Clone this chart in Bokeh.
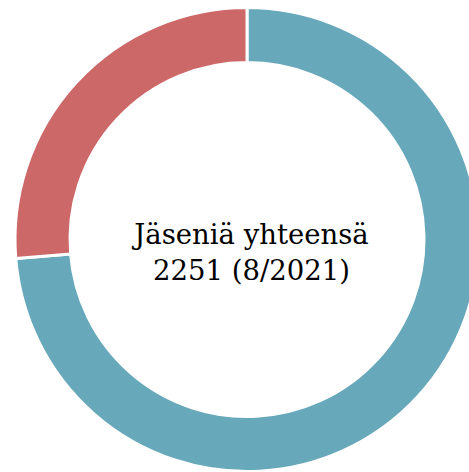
import math
from bokeh.plotting import figure
from bokeh.models import ColumnDataSource, Range1d
from bokeh.core.properties import value
from bokeh.embed import file_html
from bokeh.resources import INLINE

# Data
categories = ["A", "B"]
members = [1659, 592]
colors = ["#67a8bb", "#cd6869"]
title_lines = ["Jäseniä yhteensä", "2251 (8/2021)"]

W, H = 469, 472
p = figure(width=W, height=H, output_backend="svg", toolbar_location=None,
           x_range=Range1d(0, W), y_range=Range1d(0, H), min_border=0)
p.axis.visible = False
p.grid.visible = False
p.outline_line_color = None
p.background_fill_color = "white"

total = sum(members)
starts, ends = [], []
# first slice goes clockwise from 12 o'clock, following ones continue
cur = math.pi / 2
for v in members:
    span = 2 * math.pi * v / total
    starts.append(cur - span)
    ends.append(cur)
    cur -= span

cx, cy = 246.5, H - 239
src = ColumnDataSource(dict(cat=categories, v=members, start=starts, end=ends, color=colors))
p.annular_wedge(x=cx, y=cy, inner_radius=177, outer_radius=232,
                start_angle="start", end_angle="end", fill_color="color",
                line_color="white", line_width=3, source=src)

p.text(x=[251, 251], y=[H - 233, H - 269], text=title_lines,
       text_font=value("DejaVu Serif"), text_font_size="27.5px",
       text_align="center", text_baseline="alphabetic", text_color="#000000")

open("out.html", "w").write(file_html(p, INLINE))
